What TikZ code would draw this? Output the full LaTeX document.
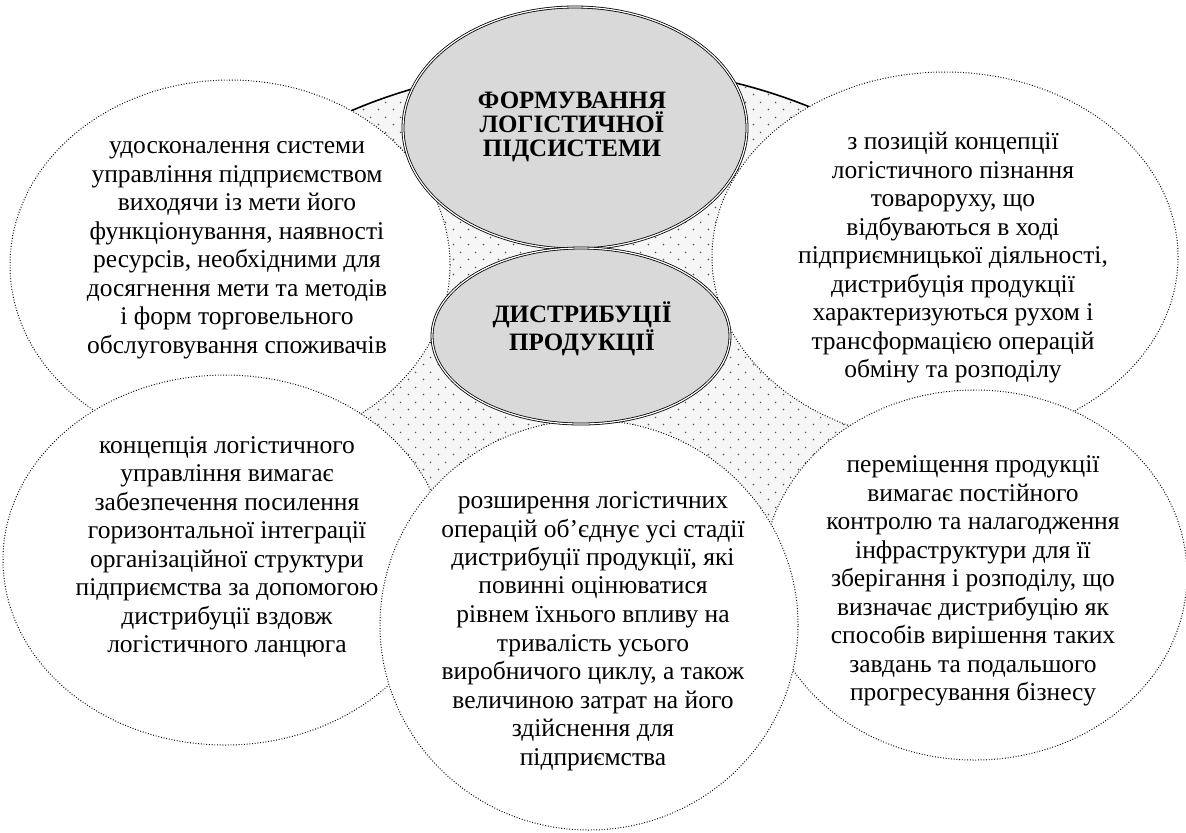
\documentclass[tikz,border=0pt]{standalone}
\usepackage{fontspec}
\setmainfont{Liberation Serif}
\usetikzlibrary{patterns}

\definecolor{ovalgray}{HTML}{D9D9D9}
\definecolor{dotgray}{HTML}{505050}
\definecolor{bggray}{HTML}{F6F6F6}

% dotted fill of the background
\pgfdeclarepatternformonly{bgdots}{\pgfqpoint{0pt}{0pt}}{\pgfqpoint{7.5pt}{7.5pt}}{\pgfqpoint{7.5pt}{7.5pt}}{
	\pgfpathcircle{\pgfqpoint{1.875pt}{1.875pt}}{0.45pt}
	\pgfpathcircle{\pgfqpoint{5.625pt}{5.625pt}}{0.45pt}
	\pgfusepath{fill}
}

\tikzset{
	bubble/.style={fill=white, draw=black, line width=0.5pt, dash pattern=on 0.45pt off 0.9pt},
	oval/.style={fill=ovalgray, draw=black, line width=0.4pt, double=white, double distance=0.6pt},
	txt/.style={align=center, inner sep=0pt, font=\fontsize{12.75}{14.25}\selectfont},
	headtxt/.style={align=center, inner sep=0pt, font=\fontsize{12.5}{12}\selectfont\bfseries}
}

\begin{document}
\begin{tikzpicture}[x=0.5pt,y=-0.5pt]
	\useasboundingbox (0,0) rectangle (1186,832);
	
	%background
	\node (bg) at (585,350) {};
	\filldraw[fill=bggray, draw=black, line width=0.8pt] (bg) ellipse (215pt and 142.5pt);
	\fill[pattern=bgdots, pattern color=dotgray] (bg) ellipse (215pt and 142.5pt);
	
	%outer circles
	\foreach \n/\x/\y/\rx/\ry in {tl/230/265/110/92.5, tr/945/257/116.5/92.5, bl/225/560/111/92.5, br/975/575/106/92.5, bm/589/625/104.5/102.5} {
		\node (\n) at (\x,\y) {};
		\filldraw[bubble] (\n) ellipse (\rx pt and \ry pt);
	}
	
	%central ovals
	\node (top) at (575,128) {};
	\filldraw[oval] (top) ellipse (86pt and 60.5pt);
	\node (low) at (581,336) {};
	\filldraw[oval] (low) ellipse (74.5pt and 44pt);
	
	%texts
	\node[headtxt] (top_text) at (572,127) {ФОРМУВАННЯ\\ЛОГІСТИЧНОЇ\\ПІДСИСТЕМИ};
	\node[headtxt] (low_text) at (582,329) {ДИСТРИБУЦІЇ\\ПРОДУКЦІЇ};
	
	\node[txt] (tl_text) at (237,250) {удосконалення системи\\управління підприємством\\виходячи із мети його\\функціонування, наявності\\ресурсів, необхідними для\\досягнення мети та методів\\і форм торговельного\\обслуговування споживачів};
	
	\node[txt] (tr_text) at (953,258) {з позицій концепції\\логістичного пізнання\\товароруху, що\\відбуваються в ході\\підприємницької діяльності,\\дистрибуція продукції\\характеризуються рухом і\\трансформацією операцій\\обміну та розподілу};
	
	\node[txt] (bl_text) at (227,547) {концепція логістичного\\управління вимагає\\забезпечення посилення\\горизонтальної інтеграції\\організаційної структури\\підприємства за допомогою\\дистрибуції вздовж\\логістичного ланцюга};
	
	\node[txt] (bm_text) at (593,631) {розширення логістичних\\операцій об’єднує усі стадії\\дистрибуції продукції, які\\повинні оцінюватися\\рівнем їхнього впливу на\\тривалість усього\\виробничого циклу, а також\\величиною затрат на його\\здійснення для\\підприємства};
	
	\node[txt] (br_text) at (973,581) {переміщення продукції\\вимагає постійного\\контролю та налагодження\\інфраструктури для її\\зберігання і розподілу, що\\визначає дистрибуцію як\\способів вирішення таких\\завдань та подальшого\\прогресування бізнесу};
\end{tikzpicture}
\end{document}
